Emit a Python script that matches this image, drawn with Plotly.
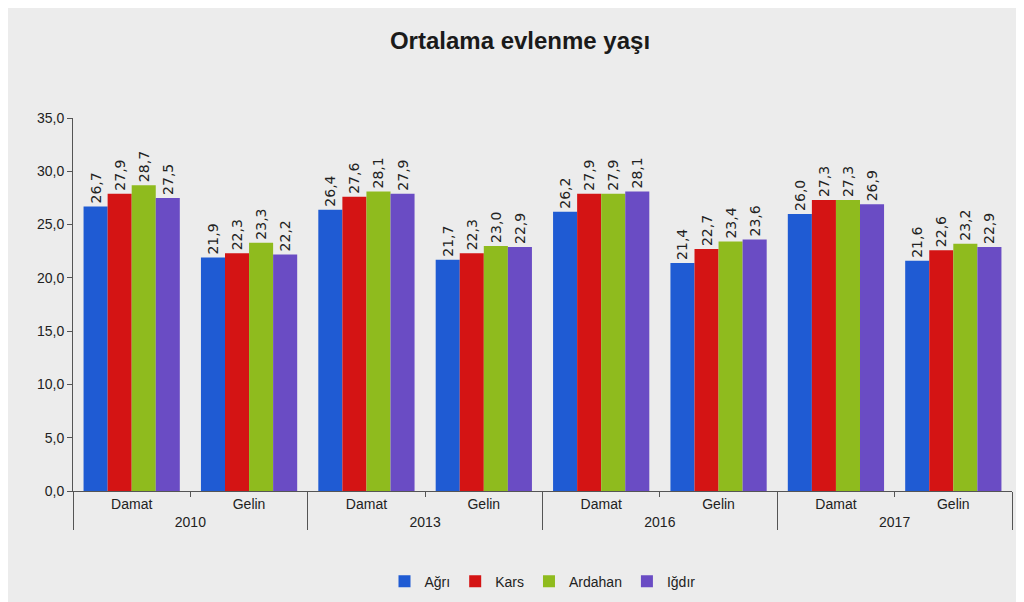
import plotly.graph_objects as go

years = ["2010", "2010", "2013", "2013", "2016", "2016", "2017", "2017"]
groups = ["Damat", "Gelin", "Damat", "Gelin", "Damat", "Gelin", "Damat", "Gelin"]

series_names = ["Ağrı", "Kars", "Ardahan", "Iğdır"]
agri = [26.7, 21.9, 26.4, 21.7, 26.2, 21.4, 26.0, 21.6]
kars = [27.9, 22.3, 27.6, 22.3, 27.9, 22.7, 27.3, 22.6]
ardahan = [28.7, 23.3, 28.1, 23.0, 27.9, 23.4, 27.3, 23.2]
igdir = [27.5, 22.2, 27.9, 22.9, 28.1, 23.6, 26.9, 22.9]
colors = ["#1f5bd3", "#d41414", "#8fbb1e", "#6a4cc4"]

fig = go.Figure()
for name, vals, c in zip(series_names, [agri, kars, ardahan, igdir], colors):
    fig.add_trace(go.Bar(
        x=[years, groups], y=vals, name=name,
        marker=dict(color=c, line=dict(width=0)),
        text=vals, texttemplate="%{y:.1f}", textposition="outside",
        textangle=-90, constraintext="none",
        textfont=dict(size=14, color="#222222", family="DejaVu Sans"),
        cliponaxis=False,
    ))

fig.update_layout(
    width=1024, height=602,
    separators=",.",
    paper_bgcolor="#ececec", plot_bgcolor="#ececec",
    title=dict(text="<b>Ortalama evlenme yaşı</b>", x=0.5, xanchor="center", y=0.96,
               font=dict(size=24, color="#1a1a1a", family="Liberation Sans")),
    barmode="group", bargap=0.18, bargroupgap=0.0,
    margin=dict(l=65, r=20, t=110, b=100),
    legend=dict(orientation="h", x=0.5, xanchor="center", y=-0.2, yanchor="top",
                font=dict(size=14, color="#222222", family="Liberation Sans"),
                itemwidth=30, traceorder="normal"),
    font=dict(family="Liberation Sans", color="#222222"),
)
fig.update_yaxes(range=[0, 35], dtick=5, tickformat=".1f", showgrid=False,
                 showline=True, linecolor="#555555", ticks="outside", ticklen=5,
                 tickcolor="#555555", tickfont=dict(size=14), zeroline=False)
fig.update_xaxes(showline=True, linecolor="#555555", showdividers=True,
                 dividercolor="#555555", dividerwidth=1, tickfont=dict(size=14),
                 ticks="outside", tickcolor="#555555")

fig.write_html("out.html")
